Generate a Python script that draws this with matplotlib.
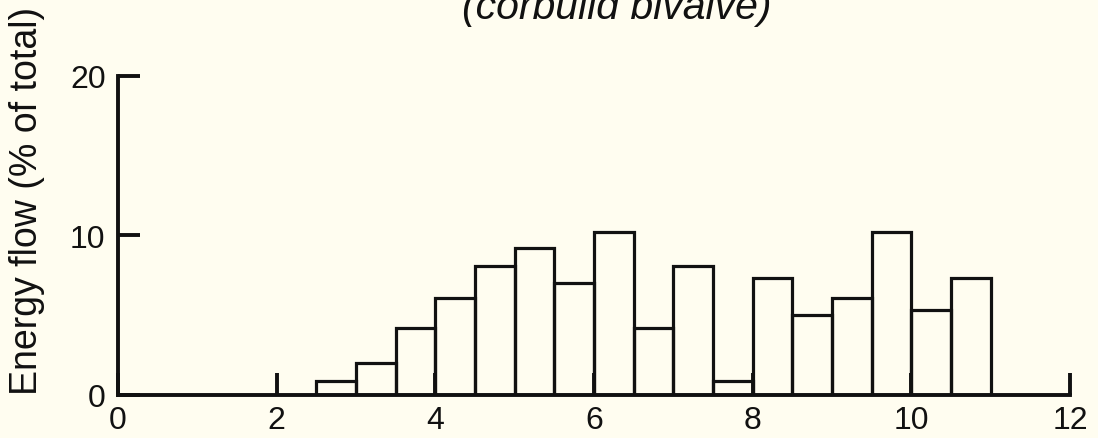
import matplotlib.pyplot as plt
import numpy as np

# dane (przedziały co 0.5)
bin_left = [2.5, 3.0, 3.5, 4.0, 4.5, 5.0, 5.5, 6.0, 6.5, 7.0, 7.5, 8.0, 8.5, 9.0, 9.5, 10.0, 10.5]
energy_flow = [0.9, 2.0, 4.2, 6.1, 8.1, 9.2, 7.0, 10.2, 4.2, 8.1, 0.9, 7.3, 5.0, 6.1, 10.2, 5.3, 7.3]
x_ticks = [0, 2, 4, 6, 8, 10, 12]
y_ticks = [0, 10, 20]

bg = '#fffdf0'
ink = '#111111'
plt.rcParams['font.family'] = ['Liberation Sans', 'DejaVu Sans']

fig = plt.figure(figsize=(10.98, 4.39), dpi=100, facecolor=bg)
ax = fig.add_axes([0.1075, 0.098, 0.867, 0.727])
ax.set_facecolor(bg)

ax.bar(bin_left, energy_flow, width=0.5, align='edge', facecolor='none',
       edgecolor=ink, linewidth=2.3, zorder=3)

ax.set_xlim(0, 12)
ax.set_ylim(0, 20)
ax.set_xticks(x_ticks)
ax.set_yticks(y_ticks)
ax.tick_params(direction='in', length=16, width=2.8, pad=9, labelsize=23, colors=ink)
ax.tick_params(axis='x', pad=7)

for s in ['top', 'right']:
    ax.spines[s].set_visible(False)
for s in ['left', 'bottom']:
    ax.spines[s].set_linewidth(2.8)
    ax.spines[s].set_color(ink)
ax.spines['left'].set_bounds(0, 20)
ax.spines['bottom'].set_bounds(0, 12)

fig.text(0.025, 0.542, 'Energy flow (% of total)', rotation=90, fontsize=27,
         ha='center', va='center', color=ink)
fig.text(0.562, 0.938, '(corbulid bivalve)', fontsize=29.5, style='italic',
         ha='center', va='bottom', color=ink)

fig.savefig('out.png', dpi=100, facecolor=bg)
